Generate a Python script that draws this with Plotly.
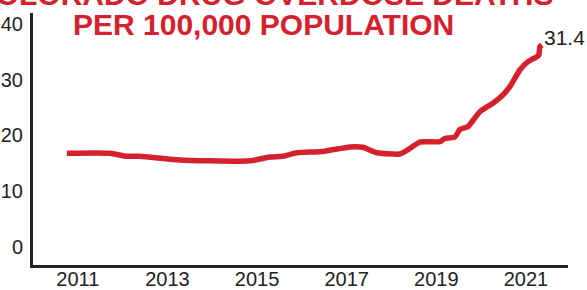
import plotly.graph_objects as go

years = [2010.755, 2011.714, 2012.094, 2012.384, 2013.277, 2014.616, 2014.906, 2015.286,
         2015.576, 2015.888, 2016.469, 2017.071, 2017.362, 2017.674, 2018.188, 2018.344,
         2018.634, 2019.080, 2019.192, 2019.415, 2019.527, 2019.705, 2019.973, 2020.263,
         2020.487, 2020.643, 2020.866, 2021.045, 2021.246, 2021.290, 2021.310, 2021.357]
rates = [16.81, 16.81, 16.27, 16.27, 15.61, 15.37, 15.52, 16.14,
         16.27, 16.90, 17.13, 17.94, 17.88, 16.91, 16.68, 17.31,
         18.83, 18.89, 19.46, 19.73, 21.08, 21.58, 24.27, 25.78,
         27.26, 28.75, 31.75, 33.24, 34.13, 34.44, 35.87, 36.23]
tick_years = [2011, 2013, 2015, 2017, 2019, 2021]
tick_vals_y = [0, 10, 20, 30, 40]
last_label = "31.4"
title_line1 = "COLORADO DRUG OVERDOSE DEATHS"
title_line2 = "PER 100,000 POPULATION"

RED = "#d3222e"
SANS = "Liberation Sans, Arial, sans-serif"

fig = go.Figure()
fig.add_trace(go.Scatter(
    x=years, y=rates, mode="lines",
    line=dict(color=RED, width=5.5, shape="spline", smoothing=0.5),
    hoverinfo="skip", showlegend=False,
))

fig.add_annotation(x=years[-1], y=37.5, xref="x", yref="y", text=last_label,
                   showarrow=False, xanchor="left", yanchor="middle", xshift=0,
                   font=dict(family=SANS, size=21, color="#222222"))
fig.add_annotation(x=0.4308, y=0.956, xref="paper", yref="paper", text="<b>" + title_line2 + "</b>",
                   showarrow=False, xanchor="center", yanchor="middle",
                   font=dict(family=SANS, size=30, color=RED))
fig.add_annotation(x=0.4308, y=1.072, xref="paper", yref="paper", text="<b>" + title_line1 + "</b>",
                   showarrow=False, xanchor="center", yanchor="middle",
                   font=dict(family=SANS, size=30, color=RED))

fig.update_layout(
    width=587, height=290,
    margin=dict(l=33, r=19, t=13, b=25),
    paper_bgcolor="white", plot_bgcolor="white",
    xaxis=dict(range=[2010.0, 2021.94], tickvals=tick_years, ticktext=[str(v) for v in tick_years],
               showgrid=False, zeroline=False, showline=True, linecolor="#222222", linewidth=3,
               ticks="", automargin=False, ticklabelstandoff=-6,
               tickfont=dict(family=SANS, size=20, color="#222222"), fixedrange=True),
    yaxis=dict(range=[-3.23, 41.97], tickvals=tick_vals_y, ticktext=[str(v) for v in tick_vals_y],
               showgrid=False, zeroline=False, showline=True, linecolor="#222222", linewidth=3,
               ticks="", automargin=False, ticklabelstandoff=3,
               tickfont=dict(family=SANS, size=20, color="#222222"), fixedrange=True),
)

fig.write_html(
    "out.html",
    config={"displayModeBar": False},
    post_script="document.body.style.margin='0';document.body.style.padding='0';",
)
